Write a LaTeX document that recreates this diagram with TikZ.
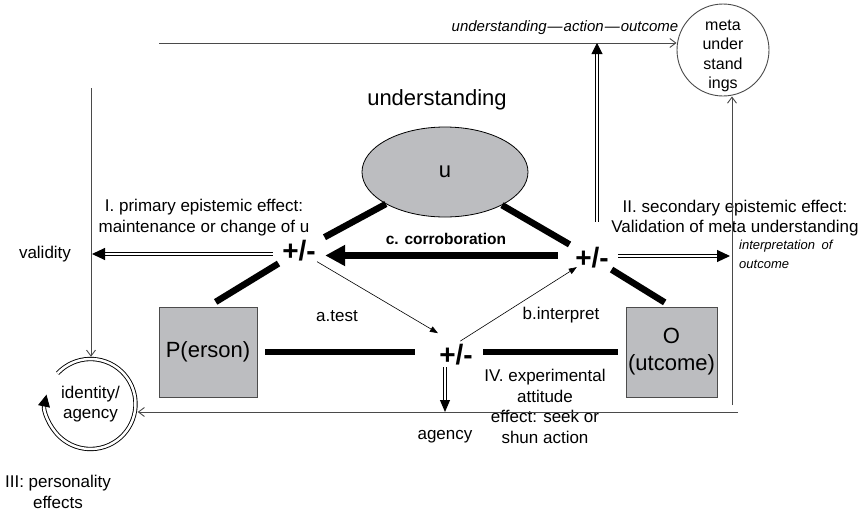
\documentclass[tikz,border=0pt]{standalone}
\usepackage{fontspec}
\setmainfont{Liberation Sans}
\usetikzlibrary{arrows.meta,shapes.geometric,calc}
\definecolor{boxgray}{HTML}{BCBDC0}
\definecolor{linegray}{HTML}{4A4A4A}
\begin{document}
\begin{tikzpicture}[x=1pt,y=-1pt,
  lbl/.style={font=\fontsize{17}{20.5}\selectfont, align=center, inner sep=0pt},
  big/.style={font=\fontsize{22}{27}\selectfont},
  thinln/.style={draw=linegray, line width=0.9pt},
  openarr/.style={thinln, -{Straight Barb[length=6pt,width=9pt]}},
  thinarr/.style={draw=black, line width=0.6pt, -{Triangle[length=8pt,width=6pt]}},
  thickln/.style={draw=black, line width=6.5pt},
  bigarr/.style={draw=black, line width=7pt, -{Triangle[length=20pt,width=20pt]}},
  dbl/.style={draw=black, double=white, double distance=2pt, line width=1pt, -{Triangle[length=13pt,width=12pt]}},
  pm/.style={font=\fontsize{28}{28}\selectfont\bfseries, inner sep=0pt, minimum width=36pt, minimum height=22pt},
  box/.style={draw=black!70, line width=0.8pt, fill=boxgray, minimum width=98pt, minimum height=90pt, inner sep=0pt, align=center, big}
]
\useasboundingbox (0,0) rectangle (868,512);

% main nodes
\node[lbl, big] (title) at (437,100) {understanding};
\node[ellipse, draw=black, line width=0.8pt, fill=boxgray, minimum width=166pt, minimum height=90pt, inner sep=0pt, big] (u) at (445,172) {u};
\node[box] (P) at (208,352) {P(erson)};
\node[box, minimum width=91pt] (O) at (671.5,352) {O\\(utcome)};
\node[pm] (lpm) at (299,251) {+/-};
\node[pm] (rpm) at (592,257.5) {+/-};
\node[pm] (bpm) at (456,355) {+/-};

\node[circle, draw=linegray, line width=0.9pt, minimum size=92pt, inner sep=0pt] (meta) at (723,50) {};
\node[lbl, font=\fontsize{16}{19.3}\selectfont] (metatxt) at (723,56) {meta\\under\\stand\\ings};
\node[circle, minimum size=94pt, lbl] (idc) at (90.5,404) {identity/\\agency};

% labels
\node[lbl] (valid) at (45,254) {validity};
\node[lbl, font=\fontsize{17}{21}\selectfont] (prim) at (204,217.5) {I. primary epistemic effect:\\maintenance or change of u};
\node[lbl, font=\fontsize{17}{20}\selectfont] (sec) at (735,218) {II. secondary epistemic effect:\\Validation of meta understanding};
\node[lbl, font=\fontsize{13}{19}\selectfont\itshape, align=left, anchor=west] (interp) at (739,254.5) {interpretation\enspace of\\outcome};
\node[lbl, font=\fontsize{15.5}{18}\selectfont\bfseries] (corr) at (446,239) {c. corroboration};
\node[lbl] (atest) at (337,316) {a.test};
\node[lbl] (binterp) at (561,315) {b.interpret};
\node[lbl] (agency) at (445,437) {agency};
\node[lbl] (exper) at (545,406.5) {IV. experimental\\attitude\\effect: seek or\\shun action};
\node[lbl] (pers) at (58,492) {III: personality\\effects};
\node[lbl, font=\fontsize{15}{18}\selectfont\itshape] (ual) at (565,28) {understanding\kern1pt---\kern1pt action\kern1pt---\kern1pt outcome};

% free ends of the outer loop
\coordinate (ts) at (159,43);
\coordinate (vs) at (91,88);
\coordinate (be) at (738,412);
\coordinate (rb) at (732,405);
\coordinate (vl) at (91,254);
\coordinate (vr) at (732,256);
\coordinate (tu) at (597,43);
\coordinate (ag) at (445,412);

% outer thin connectors
\draw[openarr] (ts) -- (ts -| meta.west);
\draw[openarr] (vs) -- (vs |- idc.north);
\draw[openarr] (be) -- (be -| idc.east);
\draw[openarr] (rb) -- (rb |- meta.south);

% identity / agency loop
\draw[dbl, line width=0.9pt, double distance=2.5pt, -{Triangle[length=12pt,width=12pt]}]
  (idc.center) ++(-137:45) arc[start angle=-137, end angle=192, radius=45];

% double arrows (effects)
\draw[dbl, shorten <=8pt, shorten >=1pt] (lpm.west |- vl) -- (vl);
\draw[dbl, shorten <=8pt, shorten >=2pt] (rpm.east |- vr) -- (vr);
\draw[dbl, shorten <=24.5pt, -{Triangle[length=11pt,width=11pt]}] (rpm.north -| tu) -- (tu);
\draw[dbl, shorten <=1pt, -{Triangle[length=12pt,width=10pt]}] (bpm.south -| ag) -- (ag);

% corroboration
\draw[bigarr, shorten <=16pt, shorten >=8pt] ($(rpm.west)+(0,-2)$) -- ($(lpm.east |- rpm.west)+(0,-2)$);

% thick links
\draw[thickln, shorten >=29pt] (u) -- (lpm.center);
\draw[thickln, shorten <=24pt, shorten >=9pt] (lpm.center) -- (P.north);
\draw[thickln, shorten >=26pt] (u) -- (rpm.center);
\draw[thickln, shorten <=23pt, shorten >=8pt] (rpm.center) -- (O.north);
\draw[thickln, shorten <=8pt, shorten >=41pt] (P.east) -- (P.east -| bpm.center);
\draw[thickln, shorten <=27pt, shorten >=8pt] (bpm.center |- O.west) -- (O.west);

% test / interpret
\draw[thinarr, shorten <=21pt, shorten >=21pt] (lpm.center) -- (bpm.north);
\draw[thinarr, shorten <=5pt, shorten >=18pt] (bpm.north) -- (rpm.center);
\end{tikzpicture}
\end{document}
